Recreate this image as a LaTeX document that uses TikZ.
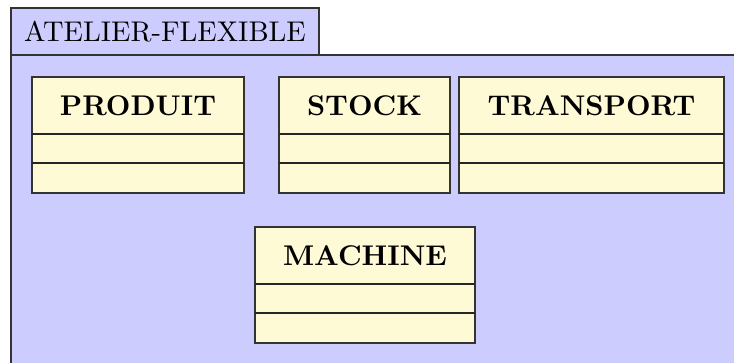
\documentclass[tikz,border=0pt]{standalone}
\definecolor{pkgblue}{RGB}{204,204,255}
\definecolor{classyellow}{RGB}{255,250,214}
\newcommand\umlclass[5]{%
  \draw[classbox] (#2,#3) rectangle (#4,#3+116);
  \draw[classline] (#2,#3+57) -- (#4,#3+57);
  \draw[classline] (#2,#3+86) -- (#4,#3+86);
  \node[classtitle] (#1) at ({(#2+#4)/2},#3+28.5) {#5};
}
\begin{document}
\begin{tikzpicture}[x=0.351pt,y=-0.351pt,
  pkg/.style={draw=black!80, fill=pkgblue, line width=0.5pt},
  classbox/.style={draw=black!80, fill=classyellow, line width=0.5pt},
  classline/.style={draw=black!85, line width=0.5pt},
  classtitle/.style={font=\bfseries, inner sep=0pt},
  pkgtitle/.style={inner sep=0pt}]
\useasboundingbox (0,0) rectangle (734,362);
\begin{scope}
\clip (0,0) rectangle (734,362);
\draw[pkg] (11,55) rectangle (760,380);
\draw[pkg] (11,8) rectangle (319,55);
\end{scope}
\node[pkgtitle] (pkgname) at (165,32) {ATELIER-FLEXIBLE};
\umlclass{produit}{32}{77}{244}{PRODUIT}
\umlclass{stock}{279}{77}{450}{STOCK}
\umlclass{transport}{459}{77}{724}{TRANSPORT}
\umlclass{machine}{255}{227}{475}{MACHINE}
\end{tikzpicture}
\end{document}
